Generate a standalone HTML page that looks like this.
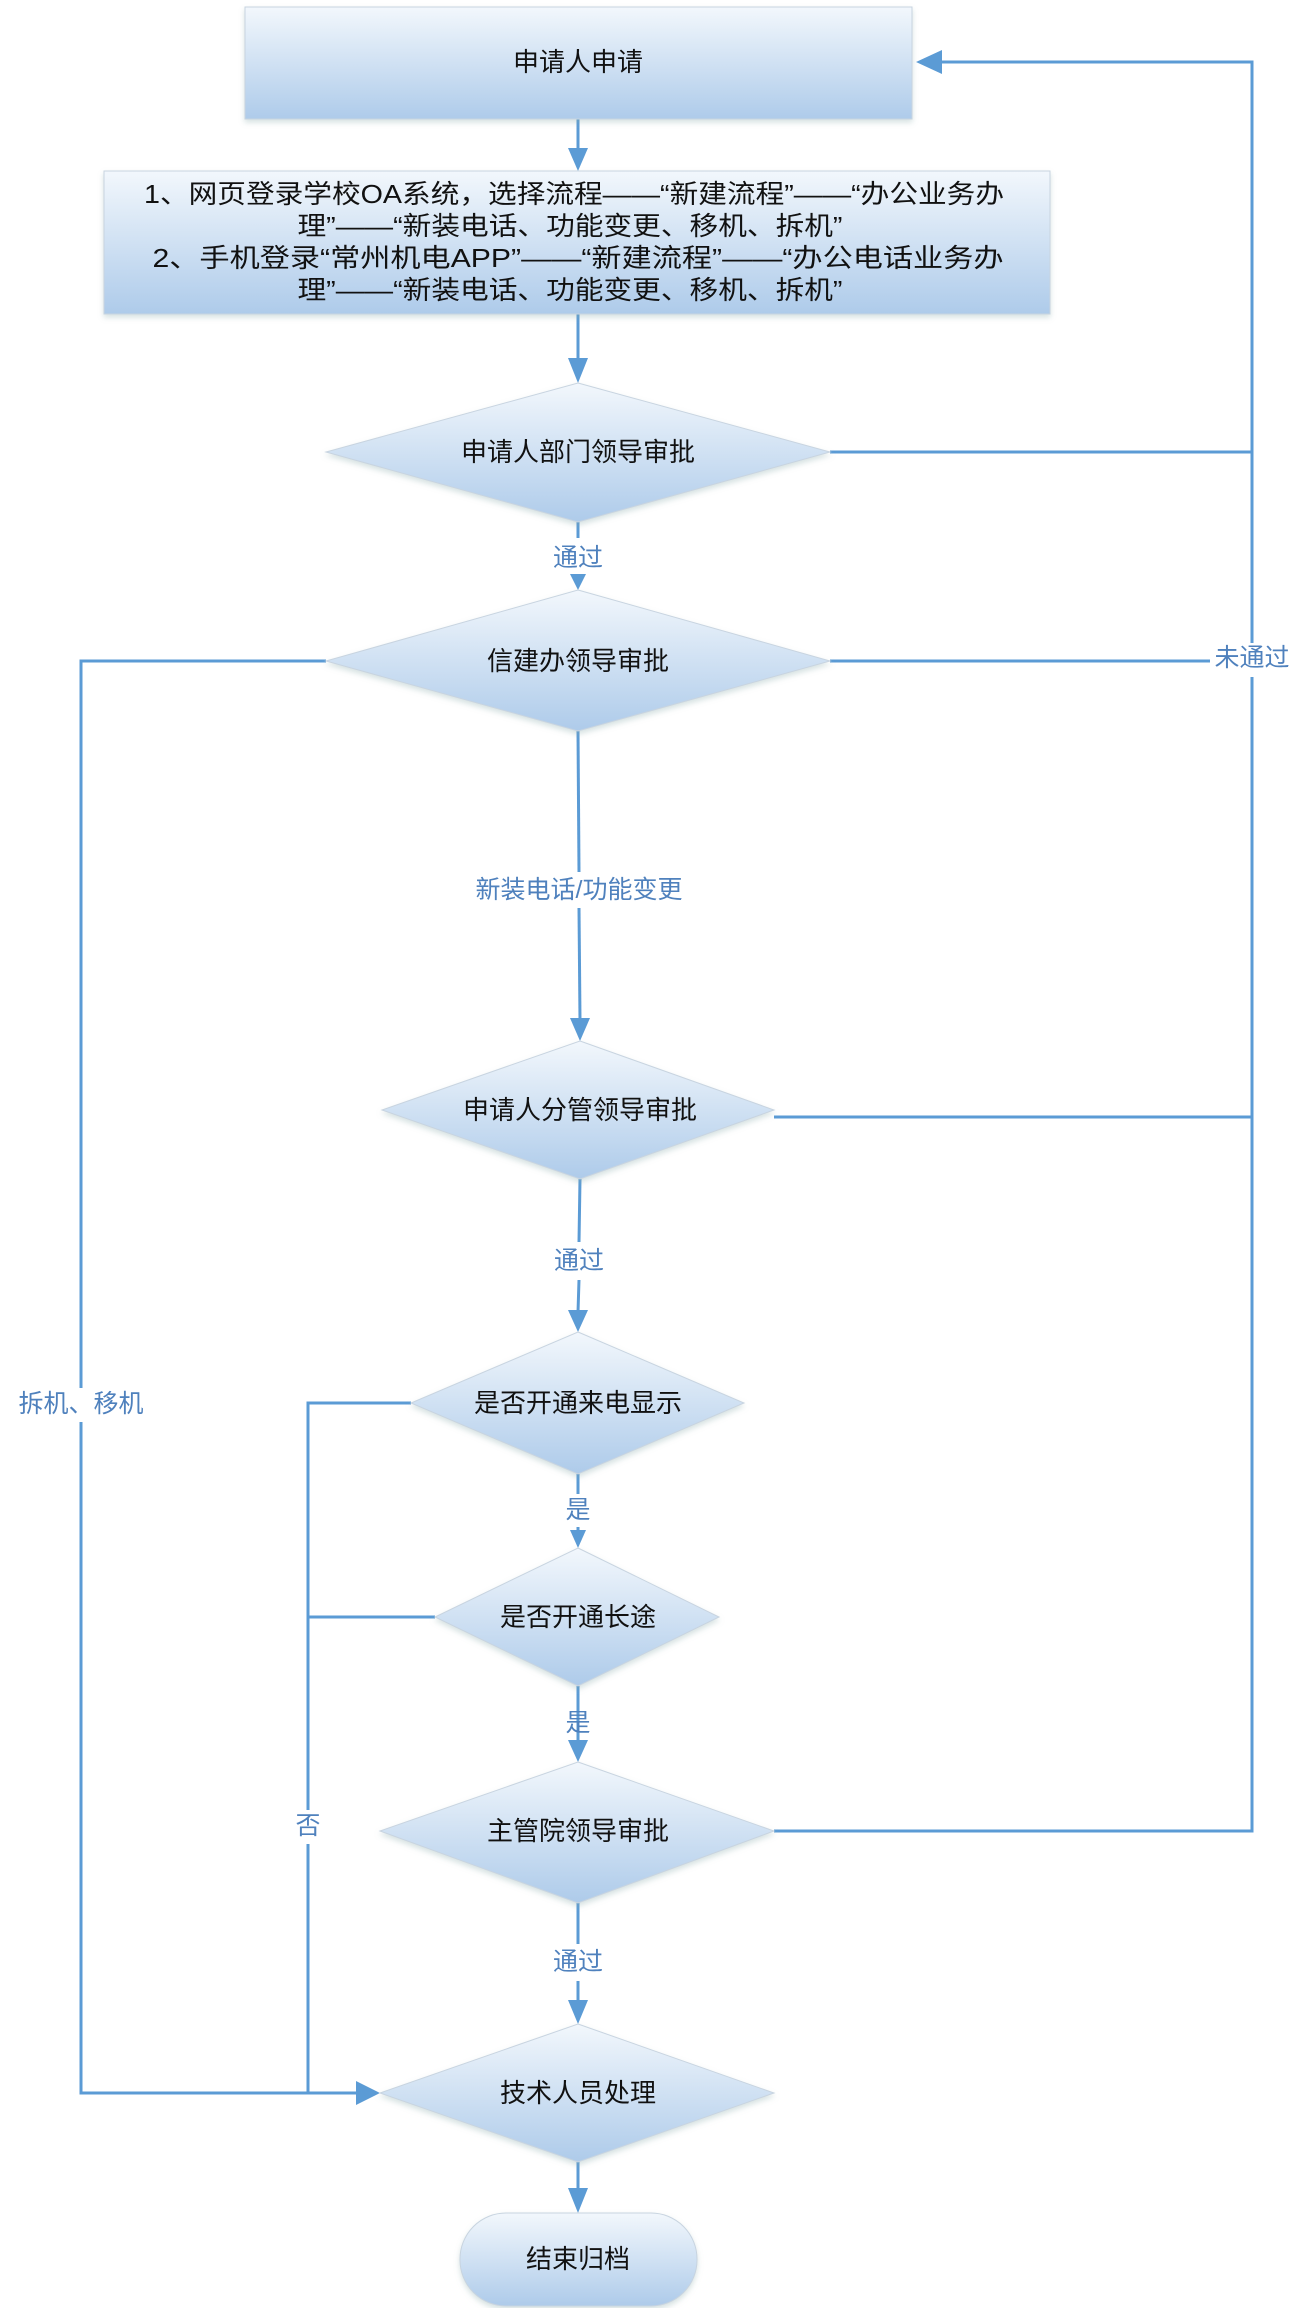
<!DOCTYPE html>
<html><head><meta charset="utf-8"><style>
html,body{margin:0;padding:0;background:#fff;}
svg{display:block;}
text{font-family:"Liberation Sans","Noto Sans CJK SC",sans-serif;}
.t{font-size:26px;fill:#111;text-anchor:middle;dominant-baseline:central;}
.l{font-size:25px;fill:#4f81bd;text-anchor:middle;dominant-baseline:central;}
.ln{stroke:#5b9bd5;stroke-width:3;fill:none;}
.ar{fill:#5b9bd5;}
.sh{fill:url(#g);stroke:#c8d4e0;stroke-width:1;filter:url(#ds);}
</style></head><body>
<svg width="1296" height="2308" viewBox="0 0 1296 2308" xmlns="http://www.w3.org/2000/svg">
<defs>
<linearGradient id="g" x1="0" y1="0" x2="0" y2="1">
<stop offset="0" stop-color="#f2f7fc"/><stop offset="1" stop-color="#aecbea"/>
</linearGradient>
<filter id="ds" x="-10%" y="-10%" width="120%" height="130%">
<feDropShadow dx="0" dy="3" stdDeviation="3" flood-color="#8aa" flood-opacity="0.35"/>
</filter>
</defs>

<line class="ln" x1="578" y1="119" x2="578" y2="150"/>
<polygon class="ar" points="568,148 588,148 578,171"/>
<line class="ln" x1="578" y1="314" x2="578" y2="360"/>
<polygon class="ar" points="568,358 588,358 578,383"/>
<line class="ln" x1="578" y1="522" x2="578" y2="538"/>
<line class="ln" x1="578" y1="578" x2="578" y2="578"/>
<polygon class="ar" points="570,574 586,574 578,590"/>
<line class="ln" x1="578" y1="731" x2="579" y2="872"/>
<line class="ln" x1="579" y1="908" x2="580" y2="1020"/>
<polygon class="ar" points="570,1018 590,1018 580,1041"/>
<line class="ln" x1="580" y1="1179" x2="579" y2="1242"/>
<line class="ln" x1="579" y1="1280" x2="578" y2="1312"/>
<polygon class="ar" points="568,1310 588,1310 578,1332"/>
<line class="ln" x1="578" y1="1474" x2="578" y2="1494"/>
<line class="ln" x1="578" y1="1527" x2="578" y2="1532"/>
<polygon class="ar" points="570,1530 586,1530 578,1548"/>
<line class="ln" x1="578" y1="1686" x2="578" y2="1742"/>
<polygon class="ar" points="568,1740 588,1740 578,1762"/>
<line class="ln" x1="578" y1="1903" x2="578" y2="1944"/>
<line class="ln" x1="578" y1="1981" x2="578" y2="2002"/>
<polygon class="ar" points="568,2000 588,2000 578,2024"/>
<line class="ln" x1="578" y1="2162" x2="578" y2="2190"/>
<polygon class="ar" points="568,2188 588,2188 578,2213"/>

<polyline class="ln" points="774,1831 1252,1831 1252,62 940,62"/>
<polygon class="ar" points="916,62 942,50 942,74"/>
<line class="ln" x1="830" y1="452" x2="1252" y2="452"/>
<line class="ln" x1="830" y1="661" x2="1252" y2="661"/>
<line class="ln" x1="774" y1="1117" x2="1252" y2="1117"/>

<polyline class="ln" points="326,661 81,661 81,2093 360,2093"/>
<polygon class="ar" points="380,2093 356,2081 356,2105"/>
<polyline class="ln" points="411,1403 308,1403 308,2093"/>
<line class="ln" x1="435" y1="1617" x2="308" y2="1617"/>

<rect x="1210" y="643" width="86" height="34" fill="#fff"/>
<rect x="10" y="1388" width="142" height="34" fill="#fff"/>
<rect x="294" y="1810" width="28" height="34" fill="#fff"/>

<rect class="sh" x="245" y="7" width="667" height="112"/>
<rect class="sh" x="104" y="171" width="946" height="143"/>
<polygon class="sh" points="578,383 830,452 578,522 326,452"/>
<polygon class="sh" points="578,590 830,661 578,731 326,661"/>
<polygon class="sh" points="580,1041 774,1110 580,1179 382,1110"/>
<polygon class="sh" points="578,1332 744,1403 578,1474 411,1403"/>
<polygon class="sh" points="578,1548 719,1617 578,1686 435,1617"/>
<polygon class="sh" points="578,1762 774,1831 578,1903 380,1831"/>
<polygon class="sh" points="578,2024 774,2093 578,2162 380,2093"/>
<rect class="sh" x="460" y="2213" width="237" height="93" rx="46" ry="46"/>

<text class="t" x="578" y="62">申请人申请</text>
<text class="t" x="574" y="194" textLength="860" lengthAdjust="spacingAndGlyphs">1、网页登录学校OA系统，选择流程——“新建流程”——“办公业务办</text>
<text class="t" x="570" y="226" textLength="545" lengthAdjust="spacingAndGlyphs">理”——“新装电话、功能变更、移机、拆机”</text>
<text class="t" x="578" y="258" textLength="851" lengthAdjust="spacingAndGlyphs">2、手机登录“常州机电APP”——“新建流程”——“办公电话业务办</text>
<text class="t" x="570" y="290" textLength="545" lengthAdjust="spacingAndGlyphs">理”——“新装电话、功能变更、移机、拆机”</text>
<text class="t" x="578" y="452">申请人部门领导审批</text>
<text class="t" x="578" y="661">信建办领导审批</text>
<text class="t" x="580" y="1110">申请人分管领导审批</text>
<text class="t" x="578" y="1403">是否开通来电显示</text>
<text class="t" x="578" y="1617">是否开通长途</text>
<text class="t" x="578" y="1831">主管院领导审批</text>
<text class="t" x="578" y="2093">技术人员处理</text>
<text class="t" x="578" y="2259">结束归档</text>

<text class="l" x="578" y="558">通过</text>
<text class="l" x="579" y="890">新装电话/功能变更</text>
<text class="l" x="579" y="1261">通过</text>
<text class="l" x="578" y="1510">是</text>
<text class="l" x="578" y="1723">是</text>
<text class="l" x="578" y="1962">通过</text>
<text class="l" x="1252" y="658">未通过</text>
<text class="l" x="81" y="1404">拆机、移机</text>
<text class="l" x="308" y="1826">否</text>
</svg>
</body></html>
